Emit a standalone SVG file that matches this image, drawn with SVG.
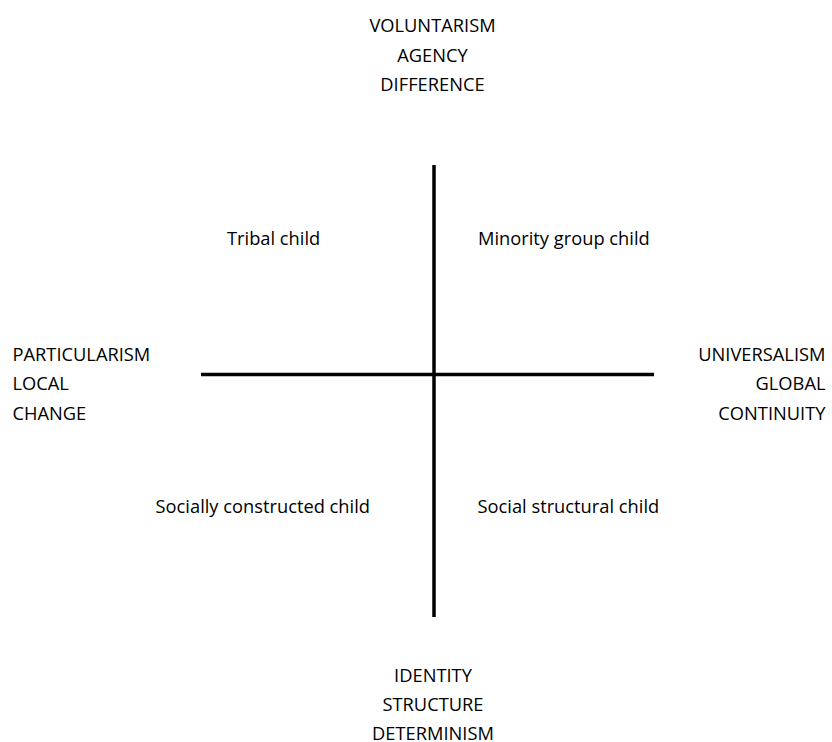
<svg xmlns="http://www.w3.org/2000/svg" width="832" height="742" viewBox="0 0 832 742">
<style>
text{font-family:"Open Sans","Liberation Sans",sans-serif;font-size:18.3px;fill:#000}
.m{text-anchor:middle}.e{text-anchor:end}
.ax{stroke:#000;stroke-width:3.5;fill:none}
</style>
<rect width="832" height="742" fill="#fff"/>
<g id="axes">
<line class="ax" x1="434" y1="165" x2="434" y2="617"/>
<line class="ax" x1="201" y1="374.5" x2="654" y2="374.5"/>
</g>
<g id="top">
<text class="m" x="432.5" y="31.5">VOLUNTARISM</text>
<text class="m" x="432.5" y="61.5">AGENCY</text>
<text class="m" x="432.5" y="91">DIFFERENCE</text>
</g>
<g id="left">
<text x="12.5" y="360.5">PARTICULARISM</text>
<text x="12.5" y="390">LOCAL</text>
<text x="12.5" y="419.5">CHANGE</text>
</g>
<g id="right">
<text class="e" x="825.5" y="360.5">UNIVERSALISM</text>
<text class="e" x="825.5" y="390">GLOBAL</text>
<text class="e" x="825.5" y="419.5">CONTINUITY</text>
</g>
<g id="bottom">
<text class="m" x="433" y="681.5">IDENTITY</text>
<text class="m" x="433" y="711">STRUCTURE</text>
<text class="m" x="433" y="740">DETERMINISM</text>
</g>
<g id="q1"><text x="227" y="245">Tribal child</text></g>
<g id="q2"><text x="478" y="245">Minority group child</text></g>
<g id="q3"><text class="e" x="370" y="513">Socially constructed child</text></g>
<g id="q4"><text x="477.5" y="513">Social structural child</text></g>
</svg>
